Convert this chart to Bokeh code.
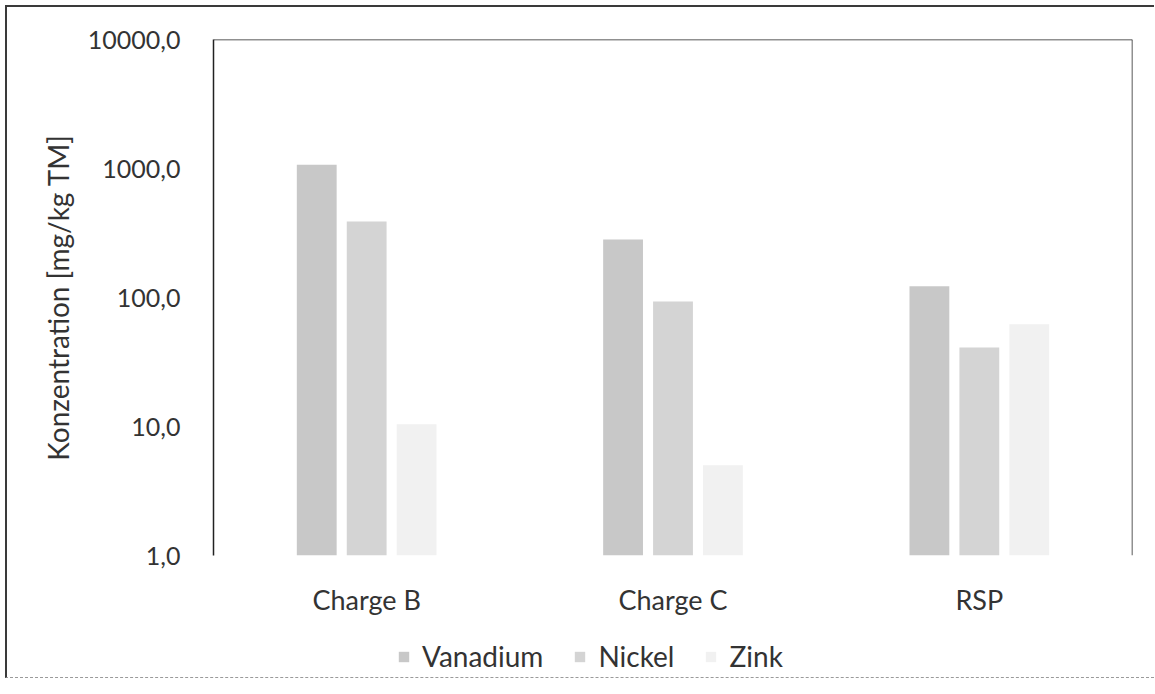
from bokeh.plotting import figure
from bokeh.layouts import column
from bokeh.models import ColumnDataSource, FactorRange, FixedTicker, Legend, LegendItem, Span
from bokeh.transform import dodge
from bokeh.embed import file_html
from bokeh.resources import INLINE

categories = ["Charge B", "Charge C", "RSP"]
vanadium = [1070, 282, 122]
nickel = [388, 93, 41]
zink = [10.4, 5.0, 62]
series_names = ["Vanadium", "Nickel", "Zink"]
y_ticks = [1, 10, 100, 1000, 10000]
y_tick_labels = ["1,0", "10,0", "100,0", "1000,0", "10000,0"]

colors = ["#c8c8c8", "#d4d4d4", "#f1f1f1"]
FONT = "Lato"

src = ColumnDataSource(dict(cat=categories, Vanadium=vanadium, Nickel=nickel, Zink=zink))

p = figure(width=1147, height=618, x_range=FactorRange(*categories, range_padding=0),
           y_axis_type="log", y_range=(1, 10000),
           output_backend="svg", toolbar_location=None,
           min_border_left=206, min_border_top=32, min_border_right=22, min_border_bottom=70)
p.outline_line_color = None
p.grid.visible = False
p.background_fill_color = "white"
p.border_fill_color = "white"

offsets = [-0.163, 0.0, 0.163]
for name, off, col in zip(series_names, offsets, colors):
    p.vbar(x=dodge("cat", off, range=p.x_range), top=name, bottom=1, width=0.13,
           source=src, fill_color=col, line_color=None)

# axes
p.yaxis.ticker = FixedTicker(ticks=y_ticks)
p.yaxis.major_label_overrides = {t: l for t, l in zip(y_ticks, y_tick_labels)}
p.yaxis.minor_tick_line_color = None
p.yaxis.major_tick_line_color = None
p.yaxis.axis_line_color = "#222222"
p.yaxis.axis_line_width = 1.5
p.yaxis.major_label_text_font = FONT
p.yaxis.major_label_text_font_size = "25px"
p.yaxis.major_label_text_color = "#333333"
p.yaxis.major_label_standoff = 27
p.yaxis.axis_label = "Konzentration [mg/kg TM]"
p.yaxis.axis_label_text_font = FONT
p.yaxis.axis_label_text_font_size = "28px"
p.yaxis.axis_label_text_font_style = "normal"
p.yaxis.axis_label_text_color = "#333333"
p.yaxis.axis_label_standoff = 10

p.xaxis.axis_line_color = None
p.xaxis.major_tick_line_color = None
p.xaxis.minor_tick_line_color = None
p.xaxis.major_label_text_font = FONT
p.xaxis.major_label_text_font_size = "27px"
p.xaxis.major_label_text_color = "#333333"
p.xaxis.major_label_standoff = 21

# frame top and right edges
p.add_layout(Span(location=10000, dimension="width", line_color="#222222", line_width=1.5))
p.add_layout(Span(location=3, dimension="height", line_color="#222222", line_width=1.5))

# legend strip below the chart (zero-size placeholder glyphs carry the legend swatches)
p2 = figure(width=1147, height=52, x_range=(0, 1), y_range=(0, 1),
            output_backend="svg", toolbar_location=None, min_border=0)
p2.outline_line_color = None
p2.axis.visible = False
p2.grid.visible = False
leg_renderers = [p2.vbar(x=[0], top=[0], bottom=[0], width=0, fill_color=c, line_color=None)
                 for c in colors]
legend = Legend(items=[LegendItem(label=n, renderers=[r]) for n, r in zip(series_names, leg_renderers)],
                orientation="horizontal", location=(184, 4),
                label_text_font=FONT, label_text_font_size="28px", label_text_color="#333333",
                glyph_width=13, glyph_height=13, label_standoff=12, spacing=30,
                padding=0, margin=0, border_line_color=None, background_fill_alpha=0)
p2.add_layout(legend, "center")

layout = column(p, p2, spacing=0)
layout.styles = {"margin-left": "5px", "margin-top": "5px",
                 "border-left": "2px solid #3a3a3a", "border-top": "2px solid #3a3a3a",
                 "border-bottom": "1px dashed #9a9a9a"}

open("out.html", "w").write(file_html(layout, INLINE))
